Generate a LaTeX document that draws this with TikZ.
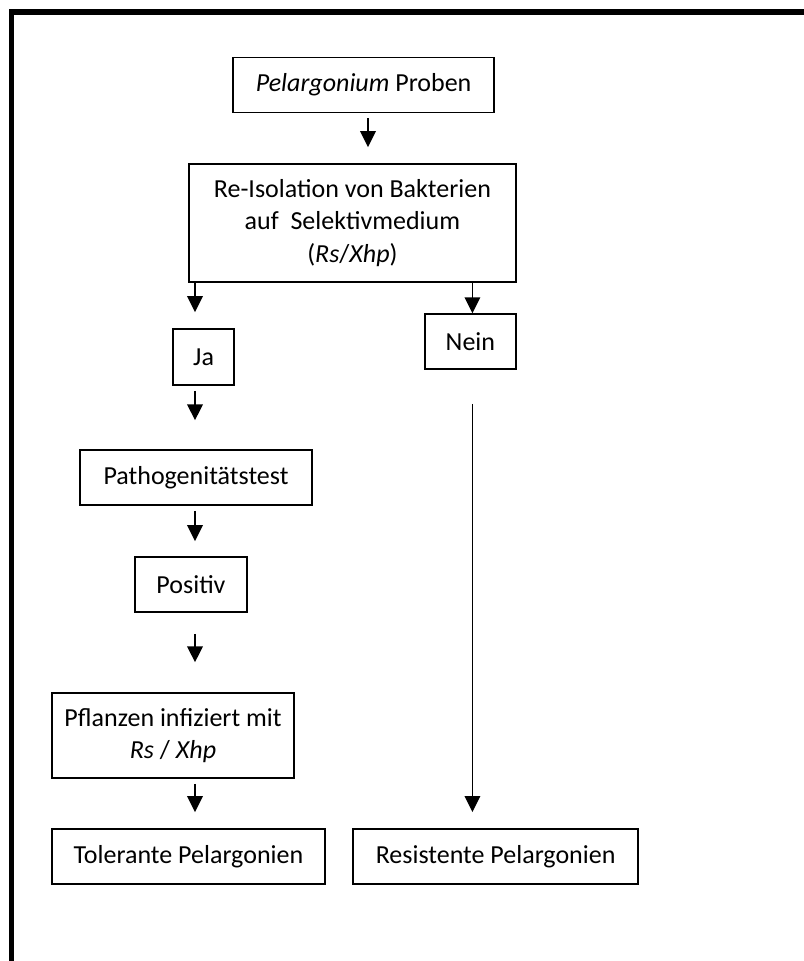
\documentclass[tikz,border=0pt]{standalone}
\usepackage{fontspec}
\setmainfont{Carlito}
\usetikzlibrary{arrows.meta}
\tikzset{
  kasten/.style={draw=black,line width=1.2pt,align=center,inner sep=2pt,
    minimum height=1.375cm,font=\fontsize{18.5}{23}\selectfont},
  pfeil/.style={-{Triangle[length=4mm,width=3.9mm]},black,line width=1.2pt},
  rahmen/.style={black,line width=3.9pt,line join=miter},
}
\begin{document}
\begin{tikzpicture}
  \useasboundingbox (0,0) rectangle (20.1,-24.025);
  % dicker Rahmen oben und links
  \draw[rahmen] (0.29,-24.3) -- (0.29,-0.30) -- (20.4,-0.30);
  % Kaesten
  \node[kasten,minimum width=6.525cm] (proben) at (9.09,-2.125) {\textit{Pelargonium} Proben};
  \node[kasten,minimum width=8.175cm,minimum height=2.95cm] (isol) at (8.81,-5.575)
    {Re-Isolation von Bakterien\\auf\ \ Selektivmedium\\(\textit{Rs}/\textit{Xhp})};
  \node[kasten,minimum width=1.525cm,minimum height=1.4cm] (ja) at (5.09,-8.925) {Ja};
  \node[kasten,minimum width=2.275cm] (nein) at (11.76,-8.54) {Nein};
  \node[kasten,minimum width=5.8cm] (patho) at (4.9,-11.94) {Pathogenitätstest};
  \node[kasten,minimum width=2.8cm] (positiv) at (4.775,-14.61) {Positiv};
  \node[kasten,minimum width=6.05cm,minimum height=2.125cm] (pflanzen) at (4.325,-18.39)
    {Pflanzen infiziert mit\\\textit{Rs} / \textit{Xhp}};
  \node[kasten,minimum width=6.825cm] (tolerant) at (4.71,-21.41) {Tolerante Pelargonien};
  \node[kasten,minimum width=7.125cm] (resist) at (12.39,-21.41) {Resistente Pelargonien};
  % Spalten der Pfeile
  \coordinate (mi) at (9.2,0);
  \coordinate (li) at (4.875,0);
  \coordinate (re) at (11.81,0);
  % Pfeile
  \draw[pfeil,shorten <=0.125cm,shorten >=0.4cm] (proben.south -| mi) -- (isol.north -| mi);
  \draw[pfeil,shorten >=0.4cm] (isol.south -| li) -- (ja.north -| li);
  \draw[pfeil] (isol.south -| re) -- (nein.north -| re);
  \draw[pfeil,shorten <=0.125cm,shorten >=0.725cm] (ja.south -| li) -- (patho.north -| li);
  \draw[pfeil,shorten <=0.125cm,shorten >=0.375cm] (patho.south -| li) -- (positiv.north -| li);
  \draw[pfeil,shorten <=0.525cm,shorten >=0.75cm] (positiv.south -| li) -- (pflanzen.north -| li);
  \draw[pfeil,shorten <=0.125cm,shorten >=0.4cm] (pflanzen.south -| li) -- (tolerant.north -| li);
  % langer Pfeil rechts
  \draw[pfeil,line width=1pt,shorten <=0.85cm,shorten >=0.4cm] (nein.south -| re) -- (resist.north -| re);
\end{tikzpicture}
\end{document}
